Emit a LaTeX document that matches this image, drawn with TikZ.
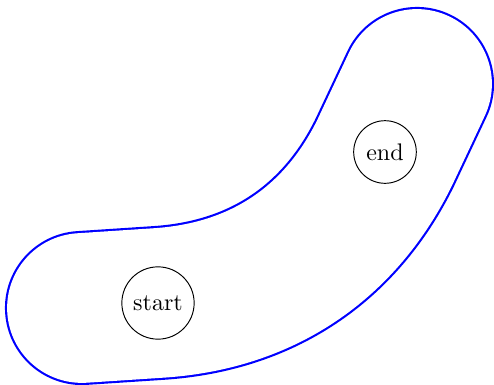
\documentclass[tikz,border=0pt]{standalone}
\usetikzlibrary{backgrounds,calc}
\begin{document}
\begin{tikzpicture}[x=0.41667pt,y=-0.41667pt,
  state/.style={circle,draw,thin},
  band/.style={draw=blue,line width=0.9pt,double=white,double distance=62.4pt,line cap=round}]
\useasboundingbox (0,0) rectangle (494,385);
\node[state] (start) at (158,303) {start};
\node[state] (end) at (385,152) {end};
\coordinate (a) at (82,308);
\coordinate (b) at (417,84);
\begin{scope}[on background layer]
\draw[band] (a) -- (start.center) .. controls ($(start.center)+(110,-7)$) and ($(end.center)+(-42,86)$) .. (end.center) -- (b);
\end{scope}
\end{tikzpicture}
\end{document}
